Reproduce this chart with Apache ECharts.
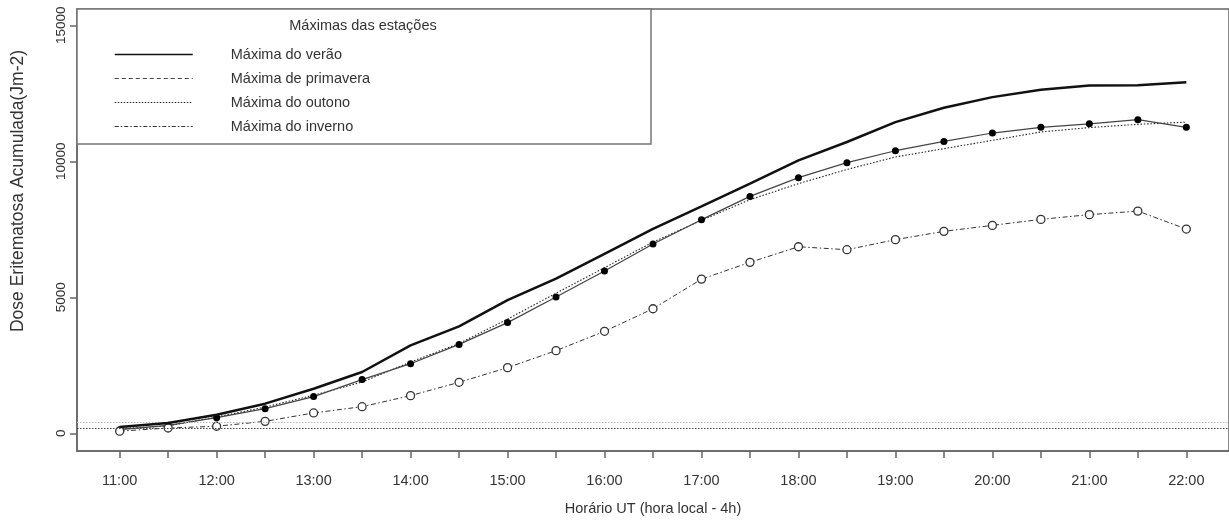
<!DOCTYPE html>
<html>
<head>
<meta charset="utf-8">
<script src="https://cdn.jsdelivr.net/npm/echarts@6/dist/echarts.min.js"></script>
<style>
html,body{margin:0;padding:0;background:#fff;}
#chart{width:1229px;height:526px;}
</style>
</head>
<body>
<div id="chart"></div>
<script>
// Half-hour time steps (UT)
const times = ["11:00","11:30","12:00","12:30","13:00","13:30","14:00","14:30","15:00","15:30","16:00","16:30",
               "17:00","17:30","18:00","18:30","19:00","19:30","20:00","20:30","21:00","21:30","22:00"];
// Series values (J m-2)
const verao     = [230,380,685,1090,1640,2255,3235,3930,4900,5690,6600,7520,8345,9180,10035,10710,11440,11970,12360,12630,12790,12800,12910];
const primavera = [135,295,575,905,1350,1975,2560,3270,4070,5010,5970,6960,7855,8710,9400,9950,10390,10730,11040,11250,11380,11530,11250];
const outono    = [170,270,600,965,1400,1885,2620,3300,4200,5150,6090,7030,7830,8590,9180,9700,10160,10465,10770,11080,11240,11360,11440];
const inverno   = [80,195,260,440,750,980,1385,1875,2415,3040,3750,4580,5670,6285,6860,6750,7120,7425,7645,7865,8040,8170,7510];
// Horizontal reference lines
const refLines  = [200, 400];
// Tick labels
const yTicks = [0, 5000, 10000, 15000];
const xLabelIdx = [0,2,4,6,8,10,12,14,16,18,20,22];
const seriesNames = ["Máxima do verão","Máxima de primavera","Máxima do outono","Máxima do inverno"];

const pairs = arr => arr.map((v, i) => [i, v]);
const FONT = "Liberation Sans, Arial, sans-serif";
const TXT = "#333";

const chart = echarts.init(document.getElementById('chart'), null, {renderer: 'canvas'});
chart.setOption({
  animation: false,
  backgroundColor: '#fff',
  textStyle: {fontFamily: FONT},
  grid: {left: 77, top: 9, right: -3, bottom: 75, show: true, borderColor: '#666', borderWidth: 1.5, backgroundColor: 'transparent'},
  xAxis: {
    type: 'value', min: -0.88, max: 22.88,
    name: 'Horário UT (hora local - 4h)', nameLocation: 'middle', nameGap: 50,
    nameTextStyle: {fontSize: 14.5, color: TXT, fontFamily: FONT},
    axisLine: {show: true, onZero: false, lineStyle: {color: '#666', width: 1.5}},
    axisTick: {show: true, length: 7, lineStyle: {color: '#666', width: 1.5},
               customValues: times.map((t, i) => i)},
    axisLabel: {customValues: xLabelIdx, margin: 22, fontSize: 14.5, color: TXT, fontFamily: FONT,
                formatter: v => times[Math.round(v)]},
    splitLine: {show: false}
  },
  yAxis: {
    type: 'value', min: -650, max: 15600,
    name: 'Dose Eritematosa Acumulada(Jm-2)', nameLocation: 'middle', nameGap: 50, nameRotate: 90,
    nameTextStyle: {fontSize: 17.5, color: TXT, fontFamily: FONT, padding: [0, 0, 0, 78]},
    axisLine: {show: true, onZero: false, lineStyle: {color: '#666', width: 1.5}},
    axisTick: {show: true, length: 7, lineStyle: {color: '#666', width: 1.5}, customValues: yTicks},
    axisLabel: {customValues: yTicks, rotate: 90, margin: 9, fontSize: 13.5, color: TXT, fontFamily: FONT,
                formatter: v => String(v)},
    splitLine: {show: false}
  },
  legend: {
    z: 60,
    orient: 'vertical', left: 114, top: 47, itemWidth: 78, itemHeight: 14, itemGap: 9,
    padding: 0, itemStyle: {opacity: 0},
    textStyle: {fontSize: 14.5, color: TXT, fontFamily: FONT, padding: [0, 0, 0, 33]},
    data: [
      {name: seriesNames[0], lineStyle: {width: 1.5}},
      {name: seriesNames[1], lineStyle: {type: [4, 3], width: 1}},
      {name: seriesNames[2], lineStyle: {type: [1.5, 1.5], width: 1}},
      {name: seriesNames[3], lineStyle: {type: [4, 2, 1.5, 2], width: 1}}
    ]
  },
  graphic: [
    {type: 'rect', z: 50, shape: {x: 77, y: 9, width: 574, height: 135},
     style: {fill: '#fff', stroke: '#777', lineWidth: 1.5}},
    {type: 'text', z: 51, x: 363, y: 26,
     style: {text: 'Máximas das estações', fill: TXT, font: '14.5px ' + FONT, textAlign: 'center', textVerticalAlign: 'middle'}}
  ],
  series: [
    {name: seriesNames[0], type: 'line', data: pairs(verao), symbol: 'none',
     lineStyle: {color: '#111', width: 2.5}, itemStyle: {color: '#111'}, z: 5},
    {name: seriesNames[1], type: 'line', data: pairs(primavera), symbol: 'circle', symbolSize: 7,
     lineStyle: {color: '#444', width: 1.2}, itemStyle: {color: '#000'}, z: 4},
    {name: seriesNames[2], type: 'line', data: pairs(outono), symbol: 'none',
     lineStyle: {color: '#222', width: 1.1, type: [1.5, 1.8]}, itemStyle: {color: '#222'}, z: 3},
    {name: seriesNames[3], type: 'line', data: pairs(inverno), symbol: 'circle', symbolSize: 8,
     lineStyle: {color: '#333', width: 1, type: [5, 2.5, 1.5, 2.5]},
     itemStyle: {color: '#fff', borderColor: '#333', borderWidth: 1.3}, z: 4,
     markLine: {silent: true, symbol: 'none', label: {show: false},
       data: [
         {yAxis: refLines[0], lineStyle: {color: '#444', width: 1.2, type: [1.5, 1.5]}},
         {yAxis: refLines[1], lineStyle: {color: '#bbb', width: 1, type: [1.5, 1.5]}}
       ]}}
  ]
});
</script>
</body>
</html>
